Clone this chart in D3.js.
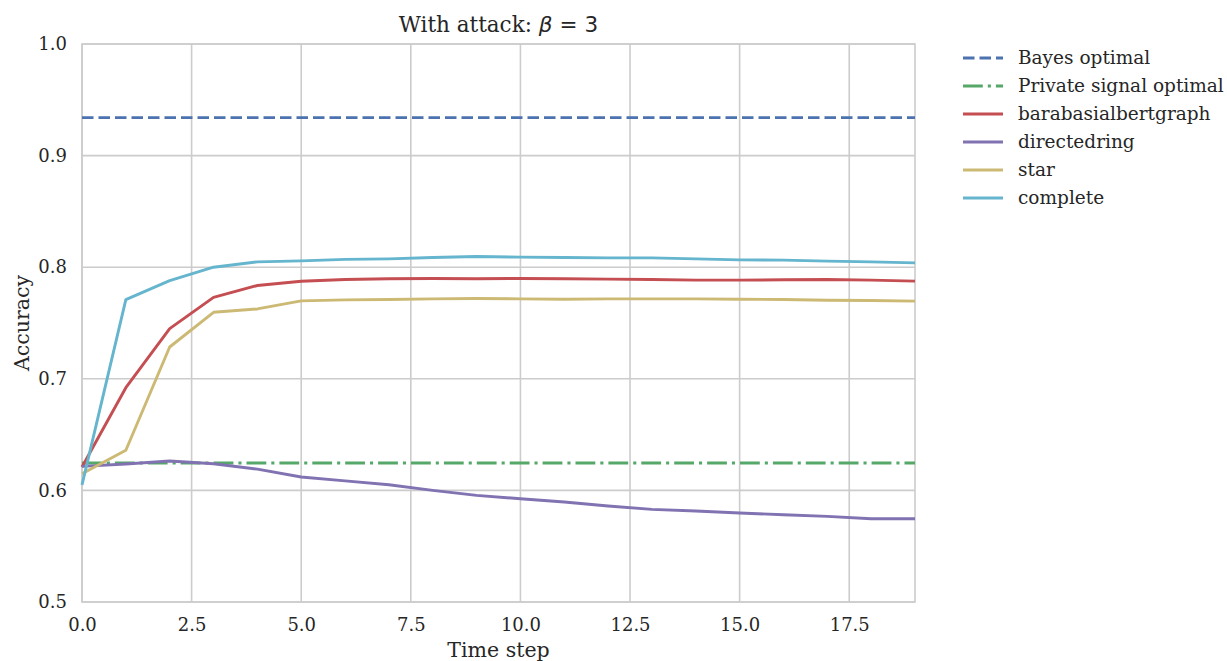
<!DOCTYPE html>
<html>
<head>
<meta charset="utf-8">
<script src="https://cdn.jsdelivr.net/npm/d3@7"></script>
<style>
  html, body { margin: 0; padding: 0; background: #fff; }
  svg text { font-family: "DejaVu Serif", serif; fill: #262626; }
</style>
</head>
<body>
<svg id="chart" width="1227" height="661"></svg>
<script>
// Time steps 0..19
const timeSteps = d3.range(0, 20);

// Reference accuracies (constant lines)
const bayesOptimal = 0.934;
const privateSignalOptimal = 0.6245;

// Accuracy per network topology over time
const barabasiAlbert = [0.621, 0.692, 0.745, 0.773, 0.7836, 0.7874, 0.789, 0.7896, 0.7899, 0.7896, 0.7899,
                        0.7896, 0.7893, 0.789, 0.7884, 0.7884, 0.7887, 0.789, 0.7884, 0.7875];
const directedRing   = [0.6215, 0.6236, 0.6263, 0.6239, 0.6191, 0.612, 0.6085, 0.6051, 0.600, 0.5955, 0.5925,
                        0.5896, 0.586, 0.583, 0.5815, 0.5797, 0.5782, 0.5767, 0.5746, 0.5746];
const star           = [0.615, 0.636, 0.7285, 0.7596, 0.7626, 0.7698, 0.7707, 0.771, 0.7716, 0.7719, 0.7716,
                        0.7713, 0.7716, 0.7716, 0.7716, 0.7713, 0.771, 0.7704, 0.7701, 0.7696];
const complete       = [0.605, 0.771, 0.788, 0.800, 0.8048, 0.8057, 0.807, 0.8075, 0.8087, 0.8096, 0.809,
                        0.8087, 0.8084, 0.8084, 0.8075, 0.8066, 0.8063, 0.8054, 0.8048, 0.8039];

const xTicks = [0, 2.5, 5, 7.5, 10, 12.5, 15, 17.5];
const yTicks = [0.5, 0.6, 0.7, 0.8, 0.9, 1.0];

const series = [
  { name: "Bayes optimal", values: timeSteps.map(() => bayesOptimal), color: "#4C72B0", dash: "11.5,5" },
  { name: "Private signal optimal", values: timeSteps.map(() => privateSignalOptimal), color: "#55A868", dash: "19.8,5,3.1,5" },
  { name: "barabasialbertgraph", values: barabasiAlbert, color: "#C44E52", dash: null },
  { name: "directedring", values: directedRing, color: "#8172B2", dash: null },
  { name: "star", values: star, color: "#CCB974", dash: null },
  { name: "complete", values: complete, color: "#64B5CD", dash: null }
];

const W = 1227, H = 661;
const margin = { left: 82, right: W - 915, top: 44, bottom: H - 602 };
const svg = d3.select("#chart");
const x = d3.scaleLinear().domain([0, 19]).range([margin.left, W - margin.right]);
const y = d3.scaleLinear().domain([0.5, 1.0]).range([H - margin.bottom, margin.top]);

// Grid
const grid = svg.append("g");
grid.selectAll("line.vx").data(xTicks).join("line")
  .attr("x1", d => x(d)).attr("x2", d => x(d))
  .attr("y1", y(0.5)).attr("y2", y(1.0))
  .attr("stroke", "#cccccc").attr("stroke-width", 1.6);
grid.selectAll("line.hy").data(yTicks).join("line")
  .attr("x1", x(0)).attr("x2", x(19))
  .attr("y1", d => y(d)).attr("y2", d => y(d))
  .attr("stroke", "#cccccc").attr("stroke-width", 1.6);

// Frame
svg.append("rect")
  .attr("x", x(0)).attr("y", y(1.0))
  .attr("width", x(19) - x(0)).attr("height", y(0.5) - y(1.0))
  .attr("fill", "none").attr("stroke", "#cccccc").attr("stroke-width", 1.6);

// Axes
const xAxis = d3.axisBottom(x).tickValues(xTicks).tickFormat(d3.format(".1f")).tickSize(0).tickPadding(16);
const yAxis = d3.axisLeft(y).tickValues(yTicks).tickFormat(d3.format(".1f")).tickSize(0).tickPadding(15);
const gx = svg.append("g").attr("transform", `translate(0,${y(0.5)})`).call(xAxis);
const gy = svg.append("g").attr("transform", `translate(${x(0)},0)`).call(yAxis);
[gx, gy].forEach(g => {
  g.select(".domain").remove();
  g.selectAll("text").style("font-family", "DejaVu Serif").style("font-size", "18px").attr("fill", "#262626");
});

// Lines
const line = d3.line().x((d, i) => x(timeSteps[i])).y(d => y(d));
svg.append("g").selectAll("path").data(series).join("path")
  .attr("d", d => line(d.values))
  .attr("fill", "none")
  .attr("stroke", d => d.color)
  .attr("stroke-width", 2.9)
  .attr("stroke-linejoin", "round")
  .attr("stroke-dasharray", d => d.dash);

// Title (math part set in a sans face, like TeX-style math)
const title = svg.append("text").attr("x", (x(0) + x(19)) / 2).attr("y", 32)
  .attr("text-anchor", "middle").style("font-size", "21.5px");
title.append("tspan").text("With attack: ");
title.append("tspan").style("font-family", "DejaVu Sans").style("font-style", "italic").text("β");
title.append("tspan").style("font-family", "DejaVu Sans").attr("dx", 7).text("=");
title.append("tspan").style("font-family", "DejaVu Sans").attr("dx", 7).text("3");

// Axis labels
svg.append("text").attr("x", (x(0) + x(19)) / 2).attr("y", 656.5)
  .attr("text-anchor", "middle").style("font-size", "20.5px").text("Time step");
svg.append("text").attr("transform", `translate(28.5,${(y(0.5) + y(1.0)) / 2}) rotate(-90)`)
  .attr("text-anchor", "middle").style("font-size", "20.5px").text("Accuracy");

// Legend
const legend = svg.append("g").attr("transform", "translate(963,58)");
const rows = legend.selectAll("g").data(series).join("g")
  .attr("transform", (d, i) => `translate(0,${i * 28})`);
rows.append("line").attr("x1", 0).attr("x2", 40).attr("y1", 0).attr("y2", 0)
  .attr("stroke", d => d.color).attr("stroke-width", 2.9)
  .attr("stroke-dasharray", d => d.dash);
rows.append("text").attr("x", 55).attr("y", 0).attr("dy", "0.35em")
  .style("font-size", "18.5px").text(d => d.name);
</script>
</body>
</html>
